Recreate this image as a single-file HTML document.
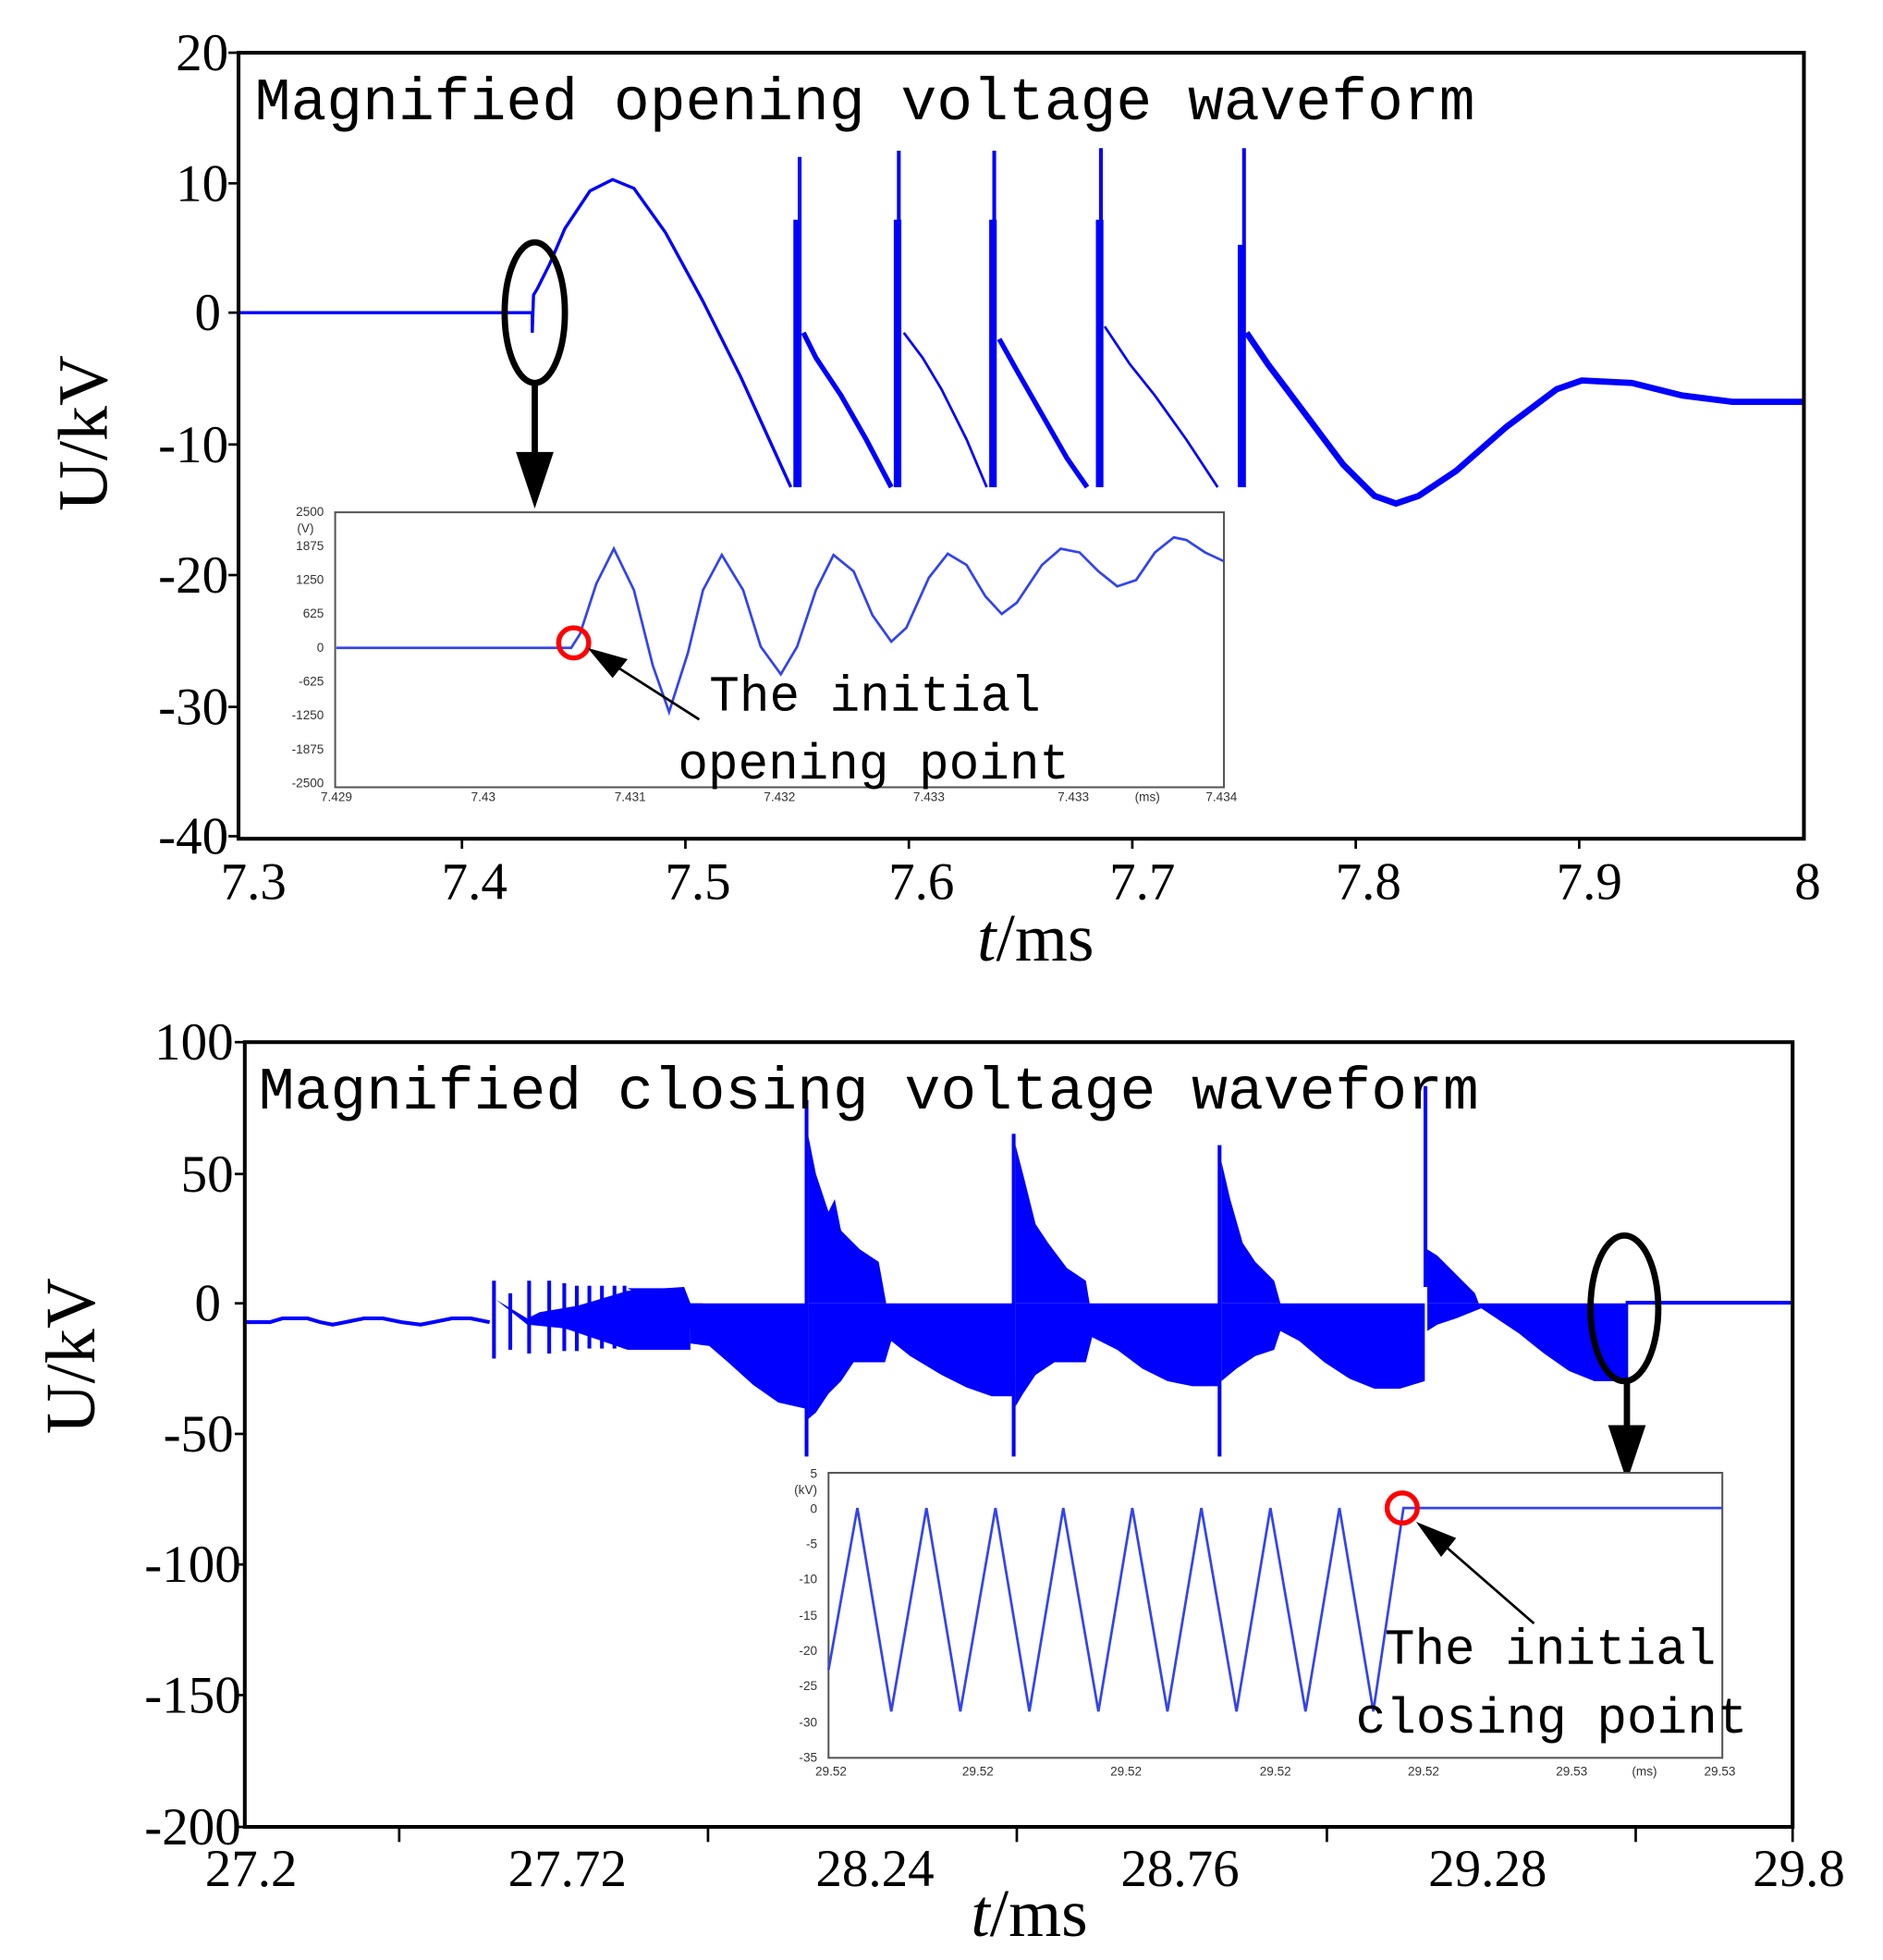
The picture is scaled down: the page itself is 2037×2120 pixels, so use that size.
<!DOCTYPE html>
<html><head><meta charset="utf-8"><style>html,body{margin:0;padding:0;background:#fff}svg{display:block}</style></head><body>
<svg width="2037" height="2120" viewBox="0 0 1500 1561" preserveAspectRatio="none" xmlns="http://www.w3.org/2000/svg">
<rect width="1500" height="1561" fill="#fff"/>
<!-- TOP PLOT -->
<g fill="none" stroke="#0000ff">
<polyline stroke-width="2.5" points="190,249 424,249 424,265 425,235 428,230 432,222 438,210 450,182 470,152 488,143 505,150 530,185 560,240 590,300 615,355 630,388"/>
<rect x="632" y="175" width="6" height="213" fill="#0000ff" stroke="none"/>
<line x1="637" y1="125" x2="637" y2="388" stroke-width="3"/>
<polyline stroke-width="4" points="640,265 650,285 670,315 690,350 710,388"/>
<rect x="712" y="175" width="6" height="213" fill="#0000ff" stroke="none"/>
<line x1="716" y1="120" x2="716" y2="388" stroke-width="3"/>
<polyline stroke-width="2" points="720,265 735,285 750,310 770,350 786,388"/>
<rect x="788" y="175" width="6" height="213" fill="#0000ff" stroke="none"/>
<line x1="792" y1="120" x2="792" y2="388" stroke-width="3"/>
<polyline stroke-width="4" points="796,270 810,295 830,330 850,365 866,388"/>
<rect x="873" y="175" width="6" height="213" fill="#0000ff" stroke="none"/>
<line x1="877" y1="118" x2="877" y2="388" stroke-width="3"/>
<polyline stroke-width="2" points="880,260 900,290 920,315 945,350 970,388"/>
<rect x="986" y="195" width="6" height="193" fill="#0000ff" stroke="none"/>
<line x1="991" y1="118" x2="991" y2="388" stroke-width="3"/>
<polyline stroke-width="5" points="993,265 1010,290 1040,330 1070,370 1095,395 1112,401 1130,395 1160,375 1200,340 1240,310 1260,303 1300,305 1340,315 1380,320 1437,320"/>
</g>
<rect x="190" y="42" width="1247" height="626" fill="none" stroke="#000" stroke-width="3"/>
<g stroke="#000" stroke-width="2">
<line x1="182" y1="42" x2="190" y2="42"/><line x1="182" y1="146" x2="190" y2="146"/><line x1="182" y1="249" x2="190" y2="249"/><line x1="182" y1="354" x2="190" y2="354"/><line x1="182" y1="458" x2="190" y2="458"/><line x1="182" y1="563" x2="190" y2="563"/><line x1="182" y1="666" x2="190" y2="666"/>
<line x1="368" y1="668" x2="368" y2="676"/><line x1="546" y1="668" x2="546" y2="676"/><line x1="724" y1="668" x2="724" y2="676"/><line x1="902" y1="668" x2="902" y2="676"/><line x1="1080" y1="668" x2="1080" y2="676"/><line x1="1258" y1="668" x2="1258" y2="676"/>
</g>
<g font-family="Liberation Serif, serif" font-size="42" text-anchor="end" fill="#000">
<text x="182" y="56">20</text><text x="182" y="160">10</text><text x="176" y="263">0</text><text x="182" y="368">-10</text><text x="182" y="472">-20</text><text x="182" y="577">-30</text><text x="182" y="680">-40</text>
</g>
<g font-family="Liberation Serif, serif" font-size="42" text-anchor="middle" fill="#000">
<text x="202" y="716">7.3</text><text x="378" y="716">7.4</text><text x="556" y="716">7.5</text><text x="734" y="716">7.6</text><text x="910" y="716">7.7</text><text x="1090" y="716">7.8</text><text x="1266" y="716">7.9</text><text x="1440" y="716">8</text>
</g>
<text x="825" y="765" font-family="Liberation Serif, serif" font-size="54" text-anchor="middle"><tspan font-style="italic">t</tspan>/ms</text>
<text transform="translate(85,345) rotate(-90)" font-family="Liberation Serif, serif" font-size="56" text-anchor="middle">U/kV</text>
<text x="203" y="95" font-family="Liberation Mono, monospace" font-size="48" textLength="972" lengthAdjust="spacingAndGlyphs">Magnified opening voltage waveform</text>
<ellipse cx="426" cy="249" rx="24" ry="56" fill="none" stroke="#000" stroke-width="5"/>
<line x1="426" y1="305" x2="426" y2="365" stroke="#000" stroke-width="5"/>
<polygon points="411,360 441,360 426,405" fill="#000"/>
<!-- inset 1 -->
<rect x="267" y="408" width="708" height="219" fill="#fff" stroke="#555" stroke-width="1.5"/>
<g font-family="Liberation Sans, sans-serif" font-size="10" text-anchor="end" fill="#333">
<text x="258" y="411">2500</text><text x="250" y="424">(V)</text><text x="258" y="438">1875</text><text x="258" y="465">1250</text><text x="258" y="492">625</text><text x="258" y="519">0</text><text x="258" y="546">-625</text><text x="258" y="573">-1250</text><text x="258" y="600">-1875</text><text x="258" y="627">-2500</text>
</g>
<g font-family="Liberation Sans, sans-serif" font-size="10" text-anchor="middle" fill="#333">
<text x="268" y="638">7.429</text><text x="385" y="638">7.43</text><text x="502" y="638">7.431</text><text x="621" y="638">7.432</text><text x="740" y="638">7.433</text><text x="855" y="638">7.433</text><text x="914" y="638">(ms)</text><text x="973" y="638">7.434</text>
</g>
<polyline fill="none" stroke="#3344ee" stroke-width="2" points="268,516 455,516 462,505 475,465 489,437 505,470 520,530 533,567 548,520 560,470 575,442 592,470 606,515 622,537 635,515 650,470 664,442 680,455 695,490 710,511 722,500 740,460 755,441 770,450 785,475 798,489 810,480 830,450 845,437 860,440 875,455 890,467 905,462 920,440 935,428 945,430 960,440 975,447"/>
<circle cx="457" cy="512" r="12" fill="none" stroke="#f00" stroke-width="4"/>
<line x1="557" y1="573" x2="485" y2="527" stroke="#000" stroke-width="2"/>
<polygon points="468,516 500,525 488,540" fill="#000"/>
<g font-family="Liberation Mono, monospace" font-size="40" fill="#000">
<text x="565" y="566">The initial</text><text x="540" y="620">opening point</text>
</g>

<!-- BOTTOM PLOT -->
<g fill="#0000ff" stroke="none">
<path fill="none" stroke="#0000ff" stroke-width="3" d="M195,1053 L215,1053 L225,1050 L245,1050 L255,1053 L265,1055 L275,1053 L290,1050 L305,1050 L320,1053 L335,1055 L345,1053 L360,1050 L375,1050 L390,1053"/>
<rect x="392" y="1020" width="3" height="62"/><rect x="405" y="1030" width="3" height="45"/><rect x="420" y="1020" width="3" height="58"/><rect x="436" y="1020" width="3" height="58"/><rect x="448" y="1022" width="3" height="54"/><rect x="458" y="1024" width="3" height="52"/><rect x="468" y="1024" width="3" height="50"/><rect x="478" y="1024" width="3" height="50"/><rect x="488" y="1024" width="3" height="50"/><rect x="496" y="1024" width="3" height="50"/>
<path d="M395,1035 L420,1050 L430,1045 L460,1040 L500,1028 L545,1025 L550,1038 L550,1075 L500,1075 L450,1058 L420,1055 Z"/>
<path d="M500,1026 L545,1026 L550,1038 L560,1038 L560,1065 Z"/>
<path d="M550,1038 L642,1038 L642,1122 L620,1117 L600,1103 L580,1085 L565,1072 L550,1070 Z"/>
<!-- segment spikes & fills -->
<rect x="641" y="876" width="3" height="284"/>
<path d="M644,1038 L644,905 L650,935 L660,965 L665,955 L670,980 L685,995 L700,1005 L706,1038 Z"/>
<path d="M644,1038 L807,1038 L807,1112 L790,1112 L770,1105 L750,1095 L725,1080 L710,1068 L705,1085 L680,1085 L670,1100 L660,1110 L650,1125 L644,1130 Z"/>
<rect x="806" y="903" width="3" height="257"/>
<path d="M809,1038 L809,912 L815,935 L825,975 L835,990 L850,1010 L865,1020 L868,1038 Z"/>
<path d="M809,1038 L971,1038 L971,1104 L950,1104 L930,1100 L910,1090 L890,1075 L870,1065 L865,1085 L840,1085 L825,1095 L815,1110 L809,1120 Z"/>
<rect x="970" y="912" width="3" height="248"/>
<path d="M973,1038 L973,925 L980,955 L990,990 L1000,1005 L1015,1020 L1020,1038 Z"/>
<path d="M973,1038 L1135,1038 L1135,1100 L1115,1106 L1095,1106 L1075,1098 L1055,1085 L1035,1068 L1020,1060 L1015,1075 L1000,1080 L985,1090 L973,1100 Z"/>
<rect x="1134" y="865" width="3" height="160"/>
<path d="M1137,1038 L1137,995 L1145,1000 L1160,1015 L1175,1030 L1178,1038 Z"/>
<path d="M1137,1038 L1297,1038 L1297,1100 L1270,1100 L1250,1092 L1230,1078 L1210,1062 L1180,1042 L1160,1050 L1145,1055 L1137,1060 Z"/>
<rect x="1295" y="1036" width="133" height="3"/>
</g>
<rect x="195" y="830" width="1233" height="625" fill="none" stroke="#000" stroke-width="3"/>
<g stroke="#000" stroke-width="2">
<line x1="187" y1="830" x2="195" y2="830"/><line x1="187" y1="935" x2="195" y2="935"/><line x1="187" y1="1038" x2="195" y2="1038"/><line x1="187" y1="1142" x2="195" y2="1142"/><line x1="187" y1="1246" x2="195" y2="1246"/><line x1="187" y1="1350" x2="195" y2="1350"/><line x1="187" y1="1455" x2="195" y2="1455"/>
<line x1="318" y1="1455" x2="318" y2="1467"/><line x1="564" y1="1455" x2="564" y2="1467"/><line x1="810" y1="1455" x2="810" y2="1467"/><line x1="1057" y1="1455" x2="1057" y2="1467"/><line x1="1303" y1="1455" x2="1303" y2="1467"/><line x1="1428" y1="1455" x2="1428" y2="1467"/>
</g>
<g font-family="Liberation Serif, serif" font-size="42" text-anchor="end" fill="#000">
<text x="186" y="844">100</text><text x="186" y="949">50</text><text x="176" y="1052">0</text><text x="186" y="1156">-50</text><text x="192" y="1260">-100</text><text x="192" y="1364">-150</text><text x="192" y="1469">-200</text>
</g>
<g font-family="Liberation Serif, serif" font-size="42" text-anchor="middle" fill="#000">
<text x="200" y="1502">27.2</text><text x="452" y="1502">27.72</text><text x="697" y="1502">28.24</text><text x="940" y="1502">28.76</text><text x="1185" y="1502">29.28</text><text x="1433" y="1502">29.8</text>
</g>
<text x="820" y="1542" font-family="Liberation Serif, serif" font-size="54" text-anchor="middle"><tspan font-style="italic">t</tspan>/ms</text>
<text transform="translate(75,1080) rotate(-90)" font-family="Liberation Serif, serif" font-size="56" text-anchor="middle">U/kV</text>
<text x="206" y="883" font-family="Liberation Mono, monospace" font-size="48" textLength="972" lengthAdjust="spacingAndGlyphs">Magnified closing voltage waveform</text>
<ellipse cx="1294" cy="1042" rx="27" ry="58" fill="none" stroke="#000" stroke-width="5"/>
<line x1="1296" y1="1100" x2="1296" y2="1140" stroke="#000" stroke-width="5"/>
<polygon points="1281,1135 1311,1135 1296,1180" fill="#000"/>
<!-- inset 2 -->
<rect x="660" y="1173" width="712" height="227" fill="#fff" stroke="#555" stroke-width="1.5"/>
<g font-family="Liberation Sans, sans-serif" font-size="10" text-anchor="end" fill="#333">
<text x="651" y="1177">5</text><text x="651" y="1190">(kV)</text><text x="651" y="1205">0</text><text x="651" y="1233">-5</text><text x="651" y="1261">-10</text><text x="651" y="1290">-15</text><text x="651" y="1318">-20</text><text x="651" y="1346">-25</text><text x="651" y="1375">-30</text><text x="651" y="1403">-35</text>
</g>
<g font-family="Liberation Sans, sans-serif" font-size="10" text-anchor="middle" fill="#333">
<text x="662" y="1414">29.52</text><text x="779" y="1414">29.52</text><text x="897" y="1414">29.52</text><text x="1016" y="1414">29.52</text><text x="1134" y="1414">29.52</text><text x="1252" y="1414">29.53</text><text x="1310" y="1414">(ms)</text><text x="1370" y="1414">29.53</text>
</g>
<polyline fill="none" stroke="#3344ee" stroke-width="2" points="660,1330 683,1201 710,1363 738,1201 765,1363 793,1201 820,1363 847,1201 875,1363 902,1201 930,1363 957,1201 985,1363 1012,1201 1040,1363 1067,1201 1094,1363 1118,1201 1372,1201"/>
<circle cx="1117" cy="1201" r="12" fill="none" stroke="#f00" stroke-width="4"/>
<line x1="1222" y1="1293" x2="1145" y2="1226" stroke="#000" stroke-width="2"/>
<polygon points="1128,1212 1160,1225 1148,1240" fill="#000"/>
<g font-family="Liberation Mono, monospace" font-size="40" fill="#000">
<text x="1103" y="1325">The initial</text><text x="1080" y="1380">closing point</text>
</g>
</svg>
</body></html>
